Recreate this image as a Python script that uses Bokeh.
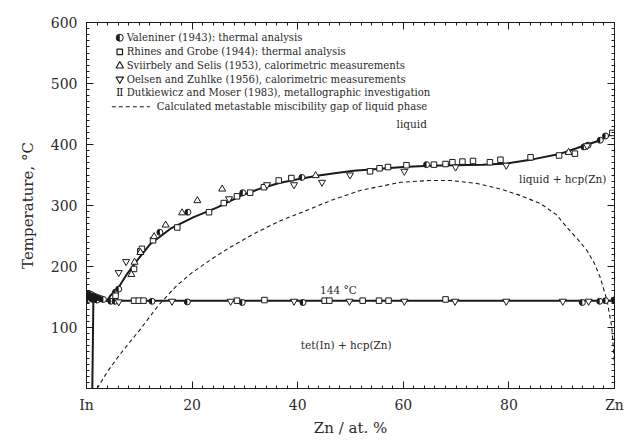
import numpy as np
from bokeh.plotting import figure
from bokeh.models import (SingleIntervalTicker, LinearAxis, Label, Range1d,
                          CustomJSTickFormatter)
from bokeh.embed import file_html
from bokeh.resources import INLINE

FONT = "DejaVu Serif"
FONT_NARROW = "DejaVu Serif Condensed"
INK = "#1a1a1a"
TXT = "#2a2a2a"

# ---- calculated phase boundaries (x: at.% Zn, T: deg C) ----
liq_x = [3.9, 4.5, 6.1, 7.7, 9.6, 12.1, 15.9, 20.3, 24.8, 29.2, 33.0, 36.5, 40.5,
         44.0, 47.0, 50.6, 55.0, 60.0, 65.0, 69.5, 75.0, 79.7, 84.7, 89.8, 94.2, 97.3, 100.0]
liq_T = [144, 152, 166, 188, 210, 237, 262, 281, 297, 316, 328, 337, 344,
         349, 353, 357, 360, 363, 365, 366, 367, 369, 376, 385, 398, 407, 419.5]

# In-rich side: liquidus, solidus and solvus of tet(In)
in_liq_x = [0.0, 1.0, 2.0, 3.0, 3.9]
in_liq_T = [156.6, 153.5, 150.0, 147.0, 144]
in_sol_x = [0.0, 0.6, 1.3]
in_sol_T = [156.6, 150.0, 144]
solvus_x = [1.3, 1.2, 1.1]
solvus_T = [144, 70, 0]

eut_x = [1.3, 100.0]
eut_T = [144, 144]

# metastable liquid miscibility gap
gap_x = [2.0, 4.0, 6.0, 8.0, 10.0, 13.6, 17.0, 20.0, 24.0, 27.3, 32.0, 36.7, 42.0,
         46.2, 52.0, 59.5, 65.0, 69.0, 74.0, 78.4, 82.0, 86.0, 89.0, 91.0, 93.0,
         94.8, 96.2, 97.3, 98.6, 99.5, 100.0]
gap_T = [0, 28, 52, 74, 95, 136, 168, 190, 214, 232, 255, 275, 293,
         308, 325, 338, 341, 341, 336, 327, 317, 303, 285, 264, 245,
         226, 205, 182, 144, 100, 40]

# ---- experimental points ----
val_x = [0.3, 0.6, 0.9, 1.2, 1.5, 1.8, 2.1, 2.4, 2.8, 3.2, 0.4, 0.8, 1.2, 1.6, 2.0, 0.3,
         5.5, 6.1, 13.9, 19.2, 29.6, 40.8, 64.4, 94.2, 95.0, 97.3, 98.3,
         4.6, 5.4, 12.4, 19.1, 29.5, 41.0, 93.9, 97.2, 98.3, 99.9]
val_T = [156, 155, 154, 152, 151, 150, 149, 148, 147, 146, 150, 148, 146, 146, 145, 146,
         158, 163, 256, 289, 321, 346, 367, 396, 399, 407, 414,
         143, 143, 143, 142, 141, 141, 141, 143, 144, 145]

rg_x = [5.5, 9.0, 10.2, 10.5, 12.6, 17.2, 23.2, 26.0, 28.5, 31.0, 33.6, 36.4, 38.8,
        53.7, 55.5, 57.1, 60.6, 65.8, 68.0, 69.3, 71.2, 73.2, 76.4, 78.4, 84.1, 89.5,
        92.5, 99.6,
        9.0, 9.9, 10.8, 28.5, 33.7, 45.1, 46.0, 52.3, 55.4, 57.2, 68.0]
rg_T = [152, 196, 225, 229, 243, 264, 289, 304, 315, 321, 330, 341, 345,
        356, 361, 363, 366, 367, 368, 371, 372, 373, 371, 375, 379, 382,
        385, 419,
        144, 144, 144, 144, 145, 144, 144, 144, 144, 144, 146]

ss_x = [8.5, 9.1, 10.2, 12.8, 15.0, 18.1, 21.0, 25.7, 43.4, 91.3]
ss_T = [187, 207, 223, 249, 268, 288, 308, 327, 349, 387]

oz_x = [6.1, 7.5, 27.0, 34.2, 39.3, 44.6, 49.9, 60.2, 69.9, 79.5, 94.8,
        6.1, 16.2, 27.3, 39.3, 49.8, 60.2, 69.8, 79.5, 90.2, 95.1]
oz_T = [190, 208, 311, 334, 334, 338, 350, 356, 363, 366, 398,
        142, 143, 143, 143, 143, 143, 143, 143, 143, 143]

legend_texts = [
    "Valeniner (1943): thermal analysis",
    "Rhines and Grobe (1944): thermal analysis",
    "Sviirbely and Selis (1953), calorimetric measurements",
    "Oelsen and Zuhlke (1956), calorimetric measurements",
    "Dutkiewicz and Moser (1983), metallographic investigation",
    "Calculated metastable miscibility gap of liquid phase",
]

p = figure(width=638, height=440, output_backend="svg", toolbar_location=None,
           x_range=Range1d(0, 100), y_range=Range1d(0, 600),
           x_axis_location=None, y_axis_location=None,
           min_border_left=86, min_border_right=24, min_border_top=22,
           min_border_bottom=52)
p.grid.visible = False
p.outline_line_color = INK
p.outline_line_width = 1
p.background_fill_color = "white"
p.border_fill_color = "white"


def style(ax, labels=True):
    ax.axis_line_color = INK
    ax.axis_line_width = 1
    ax.major_tick_in = 7
    ax.major_tick_out = 0
    ax.minor_tick_in = 3
    ax.minor_tick_out = 0
    ax.major_tick_line_color = INK
    ax.minor_tick_line_color = INK
    ax.major_label_text_font = FONT
    ax.major_label_text_font_size = "14px"
    ax.major_label_text_color = TXT
    ax.major_label_standoff = 9
    ax.axis_label_text_font = FONT
    ax.axis_label_text_font_size = "15px"
    ax.axis_label_text_font_style = "normal"
    ax.axis_label_text_color = TXT
    if not labels:
        ax.formatter = CustomJSTickFormatter(code="return ''")
        ax.major_label_standoff = 0


xb = LinearAxis(ticker=SingleIntervalTicker(interval=20, num_minor_ticks=10),
                axis_label="Zn / at. %")
style(xb)
xb.major_label_overrides = {0: "In", 100: "Zn"}
xb.major_label_standoff = 8
xb.axis_label_standoff = 3
p.add_layout(xb, "below")

yl = LinearAxis(ticker=SingleIntervalTicker(interval=100, num_minor_ticks=10),
                axis_label="Temperature, \u00b0C")
style(yl)
yl.major_label_overrides = {0: ""}
yl.axis_label_standoff = 11
p.add_layout(yl, "left")

xt = LinearAxis(ticker=SingleIntervalTicker(interval=20, num_minor_ticks=10))
style(xt, labels=False)
p.add_layout(xt, "above")
yr = LinearAxis(ticker=SingleIntervalTicker(interval=100, num_minor_ticks=10))
style(yr, labels=False)
p.add_layout(yr, "right")

# phase boundaries
p.line(gap_x, gap_T, line_color=INK, line_width=1.1, line_dash="4 3")
p.line(eut_x, eut_T, line_color=INK, line_width=2)
p.line(liq_x, liq_T, line_color=INK, line_width=2)
p.patch(in_liq_x + in_sol_x[::-1], in_liq_T + in_sol_T[::-1], fill_color=INK, line_color=INK)
p.line(in_liq_x, in_liq_T, line_color=INK, line_width=2)
p.line(in_sol_x, in_sol_T, line_color=INK, line_width=2)
p.line(solvus_x, solvus_T, line_color=INK, line_width=2)


def half_circles(xs, ys, size=6):
    p.scatter(xs, ys, marker="circle", size=size, fill_color="white",
              line_color=INK, line_width=1)
    p.wedge(xs, ys, radius=size / 2, radius_units="screen",
            start_angle=np.pi / 2, end_angle=3 * np.pi / 2,
            fill_color=INK, line_color=None)


half_circles(val_x, val_T)
p.scatter(rg_x, rg_T, marker="square", size=5.5, fill_color="white",
          line_color=INK, line_width=1)
p.scatter(ss_x, ss_T, marker="triangle", size=7, fill_color="white",
          line_color=INK, line_width=1)
p.scatter(oz_x, oz_T, marker="inverted_triangle", size=7, fill_color="white",
          line_color=INK, line_width=1)

# legend block: keys at key_x, texts to the right
row_T = [575, 552, 529, 507, 485, 462]
key_x = 6.3
half_circles([key_x], [row_T[0]], size=7)
p.scatter([key_x], [row_T[1]], marker="square", size=5.5, fill_color="white",
          line_color=INK, line_width=1.2)
p.scatter([key_x], [row_T[2]], marker="triangle", size=7.5, fill_color="white",
          line_color=INK, line_width=1.2)
p.scatter([key_x], [row_T[3]], marker="inverted_triangle", size=7.5, fill_color="white",
          line_color=INK, line_width=1.2)
p.add_layout(Label(x=key_x, y=row_T[4], text="\u2161", text_font=FONT,
                   text_font_size="11px", text_align="center", text_baseline="middle",
                   text_color=INK))
p.line([4.8, 12.0], [row_T[5], row_T[5]], line_color=INK, line_width=1.1, line_dash="4 3")

for i, t in enumerate(legend_texts):
    lx = 7.6 if i < 5 else 13.3
    p.add_layout(Label(x=lx, y=row_T[i], text=t, text_font=FONT_NARROW,
                       text_font_size="11.2px", text_baseline="middle", text_color=TXT))

# phase-field labels
for tx, xx, yy in [("liquid", 61.6, 433), ("liquid + hcp(Zn)", 90.2, 343),
                   ("144 \u00b0C", 47.7, 162), ("tet(In) + hcp(Zn)", 49.2, 72)]:
    p.add_layout(Label(x=xx, y=yy, text=tx, text_font=FONT, text_font_size="10.5px",
                       text_align="center", text_baseline="middle", text_color=TXT))

open("out.html", "w").write(file_html(p, INLINE))
